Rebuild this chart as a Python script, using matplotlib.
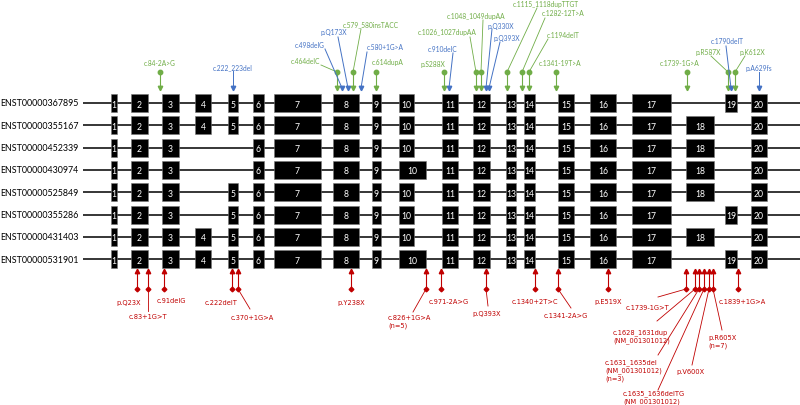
import matplotlib
matplotlib.use('Agg')
import matplotlib.pyplot as plt
import numpy as np

# exon layout along the gene (pixel scale of the original figure)
exon_start = [111, 131, 162, 195, 228, 253, 274, 333, 372, 399, 442, 473, 506, 524, 558, 590, 632, 686, 725, 751]
exon_end = [117, 148, 179, 211, 238, 264, 321, 359, 381, 414, 458, 490, 516, 535, 574, 616, 671, 714, 737, 767]
exon10_long_end = 426

transcripts = ['ENST00000367895', 'ENST00000355167', 'ENST00000452339', 'ENST00000430974',
               'ENST00000525849', 'ENST00000355286', 'ENST00000431403', 'ENST00000531901']
all_17 = list(range(1, 18))
transcript_exons = [
    all_17 + [19, 20],
    all_17 + [18, 20],
    [1, 2, 3] + list(range(6, 18)) + [18, 20],
    [1, 2, 3] + list(range(6, 18)) + [18, 20],
    [1, 2, 3] + list(range(5, 18)) + [18, 20],
    [1, 2, 3] + list(range(5, 18)) + [19, 20],
    all_17 + [18, 20],
    all_17 + [19, 20],
]
long_exon10 = [False, False, False, True, False, False, False, True]

# variants above the gene (green = with dot, blue = arrow only)
top_labels = ['c.84-2A>G', 'c.222_223del', 'c.464delC', 'c.498delG', 'p.Q173X', 'c.579_580insTACC',
              'c.580+1G>A', 'c.614dupA', 'p.S288X', 'c.910delC', 'c.1026_1027dupAA', 'c.1048_1049dupAA',
              'p.Q330X', 'p.Q393X', 'c.1115_1118dupTTGT', 'c.1282-12T>A', 'c.1194delT', 'c.1341-19T>A',
              'c.1739-1G>A', 'p.R587X', 'c.1790delT', 'p.K612X', 'p.A629fs']
top_pos = [160, 233, 337, 342, 348, 353, 361, 376, 444, 449, 476, 481, 486, 489, 507, 522, 529, 556,
           687, 728, 731, 735, 759]
top_kind = ['g', 'b', 'g', 'b', 'b', 'g', 'b', 'g', 'g', 'b', 'g', 'g', 'b', 'b', 'g', 'g', 'g', 'g',
            'g', 'g', 'b', 'g', 'b']
# label placement: text centre and start of leader line (None = directly above)
top_text_xy = [(160, 64), (233, 68), (305, 61), (310, 46), (334, 33), (371, 25), (385, 48), (388, 63),
               (433, 64), (443, 49), (447, 33), (476, 16), (501, 26), (507, 39), (546, 5), (563, 14),
               (563, 35), (560, 64), (680, 64), (708, 53), (727, 42), (752, 52), (759, 69)]
top_leader = [None, (233, 72), (321, 66), (325, 50), (338, 38), (361, 30), (367, 53), None,
              None, (453, 54), (470, 38), (483, 21), (492, 30), (500, 43), (537, 9), (545, 19),
              (548, 40), None, None, (711, 57), (726, 47), (745, 57), (759, 73)]

# variants below the gene (red)
bot_labels = ['p.Q23X', 'c.83+1G>T', 'c.91delG', 'c.222delT', 'c.370+1G>A', 'p.Y238X',
              'c.826+1G>A\n(n=5)', 'c.971-2A>G', 'p.Q393X', 'c.1340+2T>C', 'c.1341-2A>G', 'p.E519X',
              'c.1739-1G>T', 'c.1628_1631dup\n(NM_001301012)', 'c.1631_1635del\n(NM_001301012)\n(n=3)',
              'c.1635_1636delTG\n(NM_001301012)', 'p.V600X', 'p.R605X\n(n=7)', 'c.1839+1G>A']
bot_pos = [137, 148, 164, 232, 238, 351, 426, 441, 486, 535, 558, 608, 686, 695, 699, 704, 709, 713, 738]
bot_text_xy = [(129, 303, 'center'), (148, 317, 'center'), (171, 301, 'center'), (221, 303, 'center'),
               (252, 318, 'center'), (351, 303, 'center'), (388, 322, 'left'), (449, 302, 'center'),
               (487, 314, 'center'), (535, 302, 'center'), (566, 316, 'center'), (608, 302, 'center'),
               (648, 308, 'center'), (613, 337, 'left'), (605, 371, 'left'), (623, 398, 'left'),
               (690, 372, 'center'), (708, 342, 'left'), (742, 302, 'center')]
bot_leader_end = [None, (148, 312), None, None, (250, 310), None, (413, 313), None, (488, 307), None,
                  (571, 309), None, (658, 298), (657, 322), (658, 356), (658, 391), (692, 366),
                  (722, 331), None]

GREEN = '#70AD47'
BLUE = '#4472C4'
RED = '#C00000'
ann_font = 'Lato'

fig = plt.figure(figsize=(8, 4.06), dpi=100)
ax = fig.add_axes([0, 0, 1, 1])
ax.set_xlim(0, 800)
ax.set_ylim(406, 0)
ax.axis('off')

row_y = 104 + np.arange(len(transcripts)) * 22.3
exon_h = 18

for i, name in enumerate(transcripts):
    y = row_y[i]
    ax.hlines(y, 83, 800, color='black', lw=1.1, zorder=1)
    ax.text(0, y, name, ha='left', va='center', fontsize=6.4, family=ann_font)
    for e in transcript_exons[i]:
        s = exon_start[e - 1]
        en = exon_end[e - 1]
        if e == 10 and long_exon10[i]:
            en = exon10_long_end
        ax.barh(y, en - s, left=s, height=exon_h, color='black', edgecolor='#777777', lw=0.4, zorder=2)
        ax.text((s + en) / 2, y + 1, str(e), color='white', ha='center', va='center',
                fontsize=6.2, family=ann_font, zorder=3)

# top annotations
dot_y = 73
tip_y = 91
for lab, x, k, txy, lead in zip(top_labels, top_pos, top_kind, top_text_xy, top_leader):
    c = GREEN if k == 'g' else BLUE
    ax.text(txy[0], txy[1], lab, color=c, ha='center', va='center', fontsize=4.8, family=ann_font)
    if k == 'g':
        if lead is not None:
            ax.plot([lead[0], x], [lead[1], dot_y], color=c, lw=0.6)
        ax.plot([x, x], [dot_y, tip_y - 2], color=c, lw=0.8)
        ax.plot(x, dot_y, 'o', color=c, ms=3.2, mec=c)
        ax.plot(x, tip_y - 1.8, 'v', color=c, ms=3.2, mec=c)
    else:
        ax.plot([lead[0], x], [lead[1], tip_y - 2], color=c, lw=0.7)
        ax.plot(x, tip_y - 1.8, 'v', color=c, ms=3.2, mec=c)

# bottom annotations
up_y = 272
dia_y = 290
for lab, x, txy, lead in zip(bot_labels, bot_pos, bot_text_xy, bot_leader_end):
    ax.plot([x, x], [up_y, dia_y], color=RED, lw=0.8)
    ax.plot(x, up_y, '^', color=RED, ms=3.2, mec=RED)
    ax.plot(x, dia_y, 'D', color=RED, ms=2.4, mec=RED)
    if lead is not None:
        ax.plot([x, lead[0]], [dia_y, lead[1]], color=RED, lw=0.6)
    ax.text(txy[0], txy[1], lab, color=RED, ha=txy[2], va='center', fontsize=4.8,
            family='DejaVu Sans', linespacing=1.25)

fig.savefig('out.png', dpi=100)
